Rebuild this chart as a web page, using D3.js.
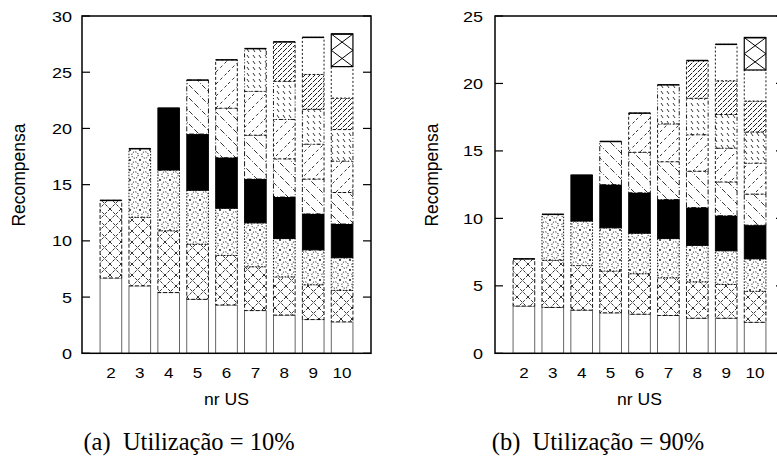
<!DOCTYPE html>
<html>
<head>
<meta charset="utf-8">
<script src="https://cdn.jsdelivr.net/npm/d3@7"></script>
<style>
  body { margin: 0; background: #fff; }
</style>
</head>
<body>
<div id="chart"></div>
<script>
// --- data ---
const users = [2, 3, 4, 5, 6, 7, 8, 9, 10];

// reward per user, stacked bottom-up (one segment per US), Utilização = 10%
const reward10 = [
  [6.7, 6.9],
  [6.0, 6.1, 6.1],
  [5.4, 5.5, 5.4, 5.5],
  [4.8, 4.9, 4.8, 5.0, 4.8],
  [4.3, 4.4, 4.2, 4.5, 4.4, 4.3],
  [3.8, 3.9, 3.9, 3.9, 3.9, 3.9, 3.8],
  [3.4, 3.4, 3.4, 3.7, 3.4, 3.5, 3.4, 3.5],
  [3.0, 3.1, 3.1, 3.2, 3.1, 3.1, 3.1, 3.1, 3.3],
  [2.8, 2.8, 2.9, 3.0, 2.8, 2.8, 2.8, 2.8, 2.8, 2.9]
];

// Utilização = 90%
const reward90 = [
  [3.5, 3.5],
  [3.4, 3.5, 3.4],
  [3.2, 3.3, 3.3, 3.4],
  [3.0, 3.1, 3.2, 3.2, 3.2],
  [2.9, 3.0, 3.0, 3.0, 3.0, 2.9],
  [2.8, 2.8, 2.9, 2.9, 2.8, 2.8, 2.9],
  [2.6, 2.7, 2.7, 2.8, 2.7, 2.7, 2.7, 2.8],
  [2.6, 2.5, 2.5, 2.6, 2.5, 2.5, 2.5, 2.5, 2.7],
  [2.3, 2.3, 2.4, 2.5, 2.3, 2.3, 2.3, 2.3, 2.3, 2.4]
];

const yTicks10 = [0, 5, 10, 15, 20, 25, 30];
const yTicks90 = [0, 5, 10, 15, 20, 25];

// fill + border dash for each user segment
const segFill = ["#fff", "url(#xhatch)", "url(#circles)", "#000", "url(#bslash)",
  "url(#fslash)", "url(#ticks)", "url(#dense)", "#fff", "#fff"];
const segDash = [null, "4,2", "1.5,1.5", null, "5,2,1,2", "3,2", "4,2,1,2,1,2", "3,2", "2,2", null];

const SANS = "Liberation Sans";
const SERIF = "Liberation Serif";

const svg = d3.select("#chart")
  .append("svg")
  .attr("width", 777)
  .attr("height", 456)
  .style("background", "#fff");

// patterns
const defs = svg.append("defs");

function addPattern(id, w, h, build) {
  const p = defs.append("pattern")
    .attr("id", id)
    .attr("patternUnits", "userSpaceOnUse")
    .attr("width", w)
    .attr("height", h);
  p.append("rect").attr("width", w).attr("height", h).attr("fill", "#fff");
  build(p);
}

addPattern("xhatch", 11, 11, p => {
  p.append("path").attr("d", "M0,0L11,11M11,0L0,11")
    .attr("stroke", "#000").attr("stroke-width", 0.8).attr("stroke-dasharray", "3,1.5");
});
addPattern("circles", 10, 10, p => {
  p.append("circle").attr("cx", 5).attr("cy", 5).attr("r", 3.2)
    .attr("fill", "none").attr("stroke", "#000").attr("stroke-width", 0.9)
    .attr("stroke-dasharray", "1.2,1.3");
  p.append("circle").attr("cx", 0).attr("cy", 0).attr("r", 0.9).attr("fill", "#000");
  p.append("circle").attr("cx", 10).attr("cy", 10).attr("r", 0.9).attr("fill", "#000");
  p.append("circle").attr("cx", 10).attr("cy", 0).attr("r", 0.9).attr("fill", "#000");
  p.append("circle").attr("cx", 0).attr("cy", 10).attr("r", 0.9).attr("fill", "#000");
});
addPattern("bslash", 13, 13, p => {
  p.append("path").attr("d", "M0,0L13,13M-6.5,6.5L6.5,19.5M6.5,-6.5L19.5,6.5")
    .attr("stroke", "#000").attr("stroke-width", 0.8).attr("stroke-dasharray", "5,2,1,2");
});
addPattern("fslash", 12, 12, p => {
  p.append("path").attr("d", "M0,12L12,0M-6,6L6,-6M6,18L18,6")
    .attr("stroke", "#000").attr("stroke-width", 0.8).attr("stroke-dasharray", "3,3");
});
addPattern("ticks", 6, 6, p => {
  p.append("path").attr("d", "M1,1L3,4")
    .attr("stroke", "#000").attr("stroke-width", 0.8);
});
addPattern("dense", 5, 5, p => {
  p.append("path").attr("d", "M0,5L5,0M-1,1L1,-1M4,6L6,4")
    .attr("stroke", "#000").attr("stroke-width", 0.9).attr("stroke-dasharray", "3,1");
});

// horizontally stretched sans label, like the reference
function label(g, x, y, txt, size, anchor, sx) {
  return g.append("text")
    .attr("transform", `translate(${x},${y}) scale(${sx},1)`)
    .attr("text-anchor", anchor)
    .attr("font-family", SANS).attr("font-size", size)
    .text(txt);
}

function drawPanel(left, data, yMax, yTicks, caption, captionX, tickGap) {
  const right = left + 289, top = 16, bottom = 353.3;
  const x = d3.scaleLinear().domain([1, 11]).range([left, right]);
  const y = d3.scaleLinear().domain([0, yMax]).range([bottom, top]);
  const bw = x(1.75) - x(1);

  const g = svg.append("g");

  data.forEach((segs, i) => {
    const n = users[i];
    const x0 = x(n) - bw / 2;
    const ends = d3.cumsum(segs);
    segs.forEach((v, k) => {
      const y1 = y(ends[k]), y0 = y(ends[k] - v);
      g.append("rect")
        .attr("x", x0)
        .attr("y", y1)
        .attr("width", bw)
        .attr("height", y0 - y1)
        .attr("fill", segFill[k])
        .attr("stroke", k === 0 ? "#555" : "#000")
        .attr("stroke-width", k === 9 ? 1.2 : 0.9)
        .attr("stroke-dasharray", segDash[k]);
      if (k === 9) {
        const ym = (y0 + y1) / 2;
        g.append("path")
          .attr("d", `M${x0},${y1}L${x0 + bw},${ym}M${x0 + bw},${y1}L${x0},${ym}` +
                     `M${x0},${ym}L${x0 + bw},${y0}M${x0 + bw},${ym}L${x0},${y0}`)
          .attr("stroke", "#000").attr("stroke-width", 1).attr("fill", "none");
      }
    });
    // solid top edge of the stack
    g.append("line")
      .attr("x1", x0).attr("x2", x0 + bw)
      .attr("y1", y(ends[ends.length - 1])).attr("y2", y(ends[ends.length - 1]))
      .attr("stroke", "#000").attr("stroke-width", 1.5);
  });

  // frame
  g.append("rect")
    .attr("x", left).attr("y", top)
    .attr("width", right - left).attr("height", bottom - top)
    .attr("fill", "none").attr("stroke", "#000").attr("stroke-width", 1.5);

  // y ticks (mirrored)
  yTicks.forEach(t => {
    g.append("line").attr("x1", left).attr("x2", left + 8)
      .attr("y1", y(t)).attr("y2", y(t)).attr("stroke", "#000").attr("stroke-width", 1.2);
    g.append("line").attr("x1", right - 8).attr("x2", right)
      .attr("y1", y(t)).attr("y2", y(t)).attr("stroke", "#000").attr("stroke-width", 1.2);
    label(g, left - tickGap, y(t) + 5.5, t, 15, "end", 1.2);
  });

  // x tick labels
  users.forEach(n => label(g, x(n), 378, n, 14, "middle", 1.22));

  label(g, (left + right) / 2, 405, "nr US", 16, "middle", 1.1);

  g.append("text")
    .attr("transform", `translate(${left - 57},175) rotate(-90)`)
    .attr("text-anchor", "middle")
    .attr("font-family", SANS).attr("font-size", 17.5)
    .text("Recompensa");

  g.append("text")
    .attr("x", captionX).attr("y", 450)
    .attr("text-anchor", "middle")
    .attr("font-family", SERIF).attr("font-size", 24.5)
    .text(caption);
}

drawPanel(82, reward10, 30, yTicks10, "(a)\u00a0\u00a0Utilização = 10%", 189, 10);
drawPanel(495, reward90, 25, yTicks90, "(b)\u00a0\u00a0Utilização = 90%", 598, 12);
</script>
</body>
</html>
